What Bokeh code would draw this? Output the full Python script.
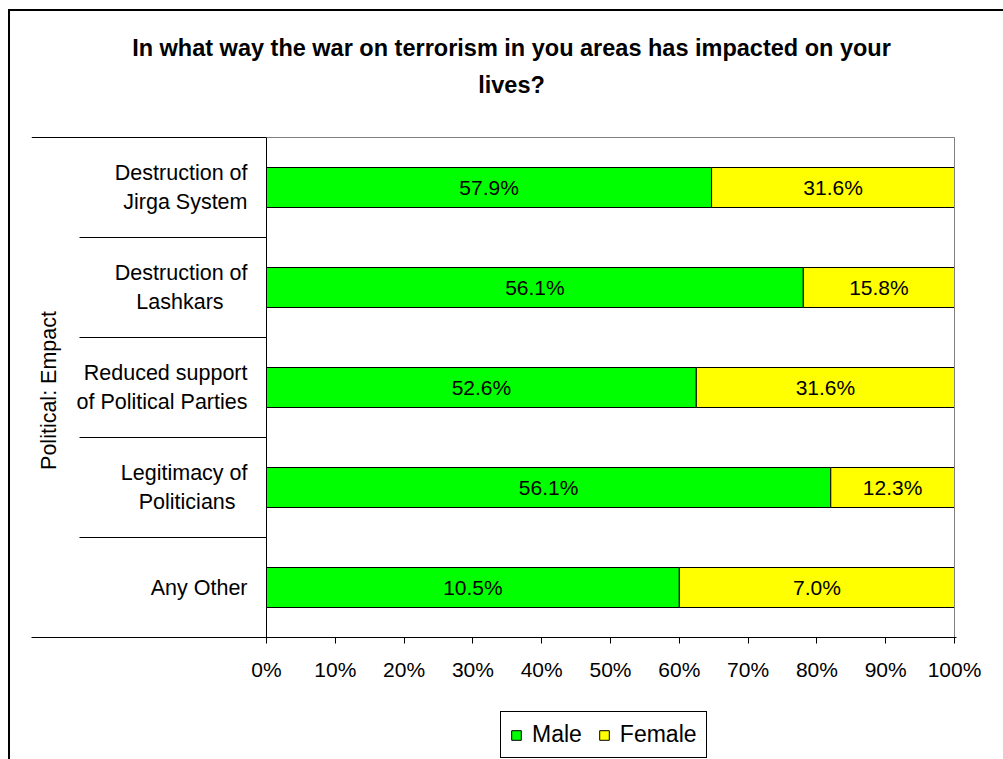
import math
from bokeh.plotting import figure
from bokeh.layouts import column
from bokeh.models import (ColumnDataSource, Range1d, FixedTicker, Legend, LegendItem)
from bokeh.embed import file_html
from bokeh.resources import INLINE
from bokeh.core.properties import value

# ---------------- data ----------------
title_lines = ["In what way the war on terrorism in you areas has impacted on your", "lives?"]
group_label = "Political:  Empact"
categories = ["Destruction of\nJirga System", "Destruction of\nLashkars",
              "Reduced support\nof Political Parties", "Legitimacy of\nPoliticians", "Any Other"]
male = [57.9, 56.1, 52.6, 56.1, 10.5]
female = [31.6, 15.8, 31.6, 12.3, 7.0]
series_names = ["Male", "Female"]
x_ticks = [0, 10, 20, 30, 40, 50, 60, 70, 80, 90, 100]
x_tick_labels = ["0%", "10%", "20%", "30%", "40%", "50%", "60%", "70%", "80%", "90%", "100%"]

# ---------------- layout (reference pixel positions) ----------------
OX, OY = 10, 11                 # canvas offset inside the outer chart border
WIN_W, WIN_H = 1003, 759
SPLIT = 700                     # main figure above, legend strip below
W = WIN_W - OX
PL, PR, PT, PB = 266, 954, 137, 637   # plot area
FL, FR = 31, 956                 # frame (includes category-label region)
FONT = "Liberation Sans"
FS = "21px"
colors = ["#00FF00", "#FFFF00"]
n = len(categories)
ppu_x = (PR - PL) / 100.0        # pixels per percent
ppu_y = (PB - PT) / n            # pixels per category
NB = "\u00a0"
# visual centring of the second line inside each right-aligned label block
line_pad = [0, 4, 0, 2, 0]
LEG_SHIFT = 21                   # measured extra offset of the legend placement

def dx(X):
    return (X - PL) / ppu_x

def dy(Y):
    return (PB - Y) / ppu_y

male_share = [m / (m + f) * 100 for m, f in zip(male, female)]
female_share = [f / (m + f) * 100 for m, f in zip(male, female)]
ycent = [n - i - 0.5 for i in range(n)]
src = ColumnDataSource(dict(
    y=ycent,
    male_share=male_share,
    female_share=female_share,
    male_mid=[s / 2 for s in male_share],
    female_mid=[ms + fs / 2 for ms, fs in zip(male_share, female_share)],
    male_lab=["%.1f%%" % v for v in male],
    female_lab=["%.1f%%" % v for v in female],
))

p = figure(width=W, height=SPLIT - OY, output_backend="svg", toolbar_location=None,
           x_range=Range1d(dx(FL), dx(FR)), y_range=Range1d(0, dy(OY)),
           min_border_left=FL - OX, min_border_right=WIN_W - FR, min_border_top=0,
           min_border_bottom=SPLIT - PB)
p.background_fill_color = "white"
p.border_fill_color = "white"
p.outline_line_color = None
p.xgrid.visible = False
p.ygrid.visible = False

renderers = p.hbar_stack(["male_share", "female_share"], y="y", height=0.4, source=src,
                         fill_color=colors, line_color="black", line_width=1)

p.text(x="male_mid", y="y", text="male_lab", source=src, text_font=value(FONT),
       text_font_size=FS, text_align="center", text_baseline="middle", text_color="black")
p.text(x="female_mid", y="y", text="female_lab", source=src, text_font=value(FONT),
       text_font_size=FS, text_align="center", text_baseline="middle", text_color="black")

# plot-area border and category separators
p.segment(x0=[0], y0=[0], x1=[0], y1=[n], line_color="black", line_width=1)
p.segment(x0=[0, 100], y0=[n, 0], x1=[100, 100], y1=[n, n], line_color="#808080", line_width=1)
sep_y = list(range(1, n + 1))
sep_x0 = [dx(79)] * (n - 1) + [dx(31)]
p.segment(x0=sep_x0, y0=sep_y, x1=[0] * n, y1=sep_y, line_color="black", line_width=1)

# group label
p.text(x=[dx(48)], y=[n / 2], text=[group_label], angle=math.pi / 2, text_font=value(FONT),
       text_font_size="21.5px", text_align="center", text_baseline="middle", text_color="black")

# title
p.text(x=[dx(511)] * 2, y=[dy(47), dy(84)], text=title_lines, text_font=value(FONT),
       text_font_size="23.5px", text_font_style="bold", text_align="center",
       text_baseline="middle", text_color="black")

# x axis
xa = p.xaxis[0]
xa.ticker = FixedTicker(ticks=x_ticks)
xa.major_label_overrides = {t: l for t, l in zip(x_ticks, x_tick_labels)}
xa.axis_line_color = "black"
xa.major_tick_line_color = "black"
xa.major_tick_out = 6
xa.major_tick_in = 0
xa.minor_tick_line_color = None
xa.major_label_text_font = FONT
xa.major_label_text_font_size = FS
xa.major_label_text_color = "black"
xa.major_label_standoff = 14

# y axis: category labels
def padded(label, pad):
    return label + NB * pad if pad else label

ya = p.yaxis[0]
ya.ticker = FixedTicker(ticks=ycent, minor_ticks=[])
ya.major_label_overrides = {y: padded(c, k) for y, c, k in zip(ycent, categories, line_pad)}
ya.axis_line_color = None
ya.major_tick_line_color = None
ya.minor_tick_line_color = None
ya.major_tick_out = 0
ya.major_tick_in = 0
ya.major_label_text_font = FONT
ya.major_label_text_font_size = "21.5px"
ya.major_label_text_color = "black"
ya.major_label_standoff = -(247 - FL)

# ---------------- legend strip ----------------
LH = WIN_H - SPLIT
pl = figure(width=W, height=LH, output_backend="svg", toolbar_location=None,
            x_axis_location=None, y_axis_location=None,
            x_range=Range1d(0, W), y_range=Range1d(0, LH),
            min_border_left=0, min_border_right=0, min_border_top=0, min_border_bottom=0)
pl.grid.visible = False
pl.outline_line_color = None
pl.background_fill_color = "white"
pl.border_fill_color = "white"
# legend keys (their single bar lies below the visible strip)
key_renderers = [pl.hbar(y=[-LH], left=[0], right=[1], height=1, fill_color=c, line_color="black")
                 for c in colors]
legend = Legend(items=[LegendItem(label=s, renderers=[r]) for s, r in zip(series_names, key_renderers)],
                orientation="horizontal", location=(500 - OX - LEG_SHIFT, WIN_H - 758))
legend.border_line_color = "black"
legend.border_line_width = 1
legend.border_line_alpha = 1
legend.background_fill_color = "white"
legend.background_fill_alpha = 1
legend.label_text_font = FONT
legend.label_text_font_size = "23px"
legend.label_text_color = "black"
legend.glyph_width = 12
legend.glyph_height = 12
legend.label_standoff = 10
legend.spacing = 16
legend.padding = 9
legend.margin = 0
legend.label_height = 22
pl.add_layout(legend, "center")

layout = column(p, pl, spacing=0)
layout.margin = (OY - 2, 0, 0, OX - 2)
layout.styles = {"border-left": "2px solid black", "border-top": "2px solid black"}

open("out.html", "w").write(file_html(layout, INLINE))
